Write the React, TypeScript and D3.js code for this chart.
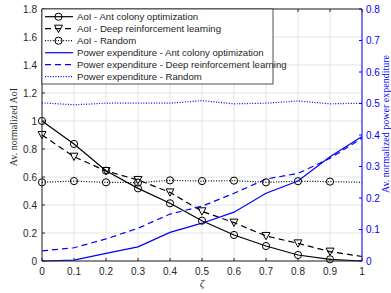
import React from 'react'
import * as d3 from 'd3'

// zeta values on the x axis
const zeta = [0, 0.1, 0.2, 0.3, 0.4, 0.5, 0.6, 0.7, 0.8, 0.9, 1]

// AoI series (left axis)
const aoiAco = [1.0, 0.836, 0.645, 0.519, 0.412, 0.288, 0.186, 0.107, 0.043, 0.012, 0.0]
const aoiDrl = [0.9, 0.745, 0.643, 0.579, 0.49, 0.355, 0.274, 0.179, 0.126, 0.067, 0.032]
const aoiRandom = [0.562, 0.571, 0.562, 0.56, 0.576, 0.571, 0.574, 0.562, 0.57, 0.567, 0.562]

// power expenditure series (right axis)
const powAco = [0.0, 0.003, 0.024, 0.045, 0.091, 0.12, 0.155, 0.215, 0.254, 0.331, 0.395]
const powDrl = [0.032, 0.042, 0.07, 0.104, 0.149, 0.174, 0.215, 0.26, 0.278, 0.326, 0.39]
const powRandom = [0.502, 0.496, 0.501, 0.501, 0.501, 0.509, 0.499, 0.501, 0.508, 0.499, 0.501]

const xTicks = [0, 0.1, 0.2, 0.3, 0.4, 0.5, 0.6, 0.7, 0.8, 0.9, 1]
const leftTicks = [0, 0.2, 0.4, 0.6, 0.8, 1, 1.2, 1.4, 1.6, 1.8]
const rightTicks = [0, 0.1, 0.2, 0.3, 0.4, 0.5, 0.6, 0.7, 0.8]

const legendLabels = [
  'AoI - Ant colony optimization',
  'AoI - Deep reinforcement learning',
  'AoI - Random',
  'Power expenditure - Ant colony optimization',
  'Power expenditure - Deep reinforcement learning',
  'Power expenditure - Random',
]

const W = 391
const H = 293
const m = { left: 42, right: 362, top: 9, bottom: 261 }
const BLUE = '#0000ff'
const INK = '#262626'
const tickFont = 'Liberation Sans, Arial, Helvetica, sans-serif'
const serif = 'Liberation Serif, DejaVu Serif, serif'

const fmt = (v: number) => (v === 0 || v === 1 ? String(v) : String(+v.toFixed(1)))

const Circle = ({ x, y }: { x: number; y: number }) => (
  <circle cx={x} cy={y} r={3.6} fill="none" stroke="#000" strokeWidth={1} />
)
const Tri = ({ x, y }: { x: number; y: number }) => (
  <path d={`M${x - 4},${y - 3.5}L${x + 4},${y - 3.5}L${x},${y + 3.8}Z`} fill="none" stroke="#000" strokeWidth={1} />
)

export default function App() {
  const x = d3.scaleLinear().domain([0, 1]).range([m.left, m.right])
  const yL = d3.scaleLinear().domain([0, 1.8]).range([m.bottom, m.top])
  const yR = d3.scaleLinear().domain([0, 0.8]).range([m.bottom, m.top])

  const lineL = d3.line<number>().x((_, i) => x(zeta[i])).y((d) => yL(d))
  const lineR = d3.line<number>().x((_, i) => x(zeta[i])).y((d) => yR(d))

  const series = [
    { data: aoiAco, gen: lineL, color: '#000', dash: undefined, marker: 'o' },
    { data: aoiDrl, gen: lineL, color: '#000', dash: '6,4', marker: 'v' },
    { data: aoiRandom, gen: lineL, color: '#000', dash: '1,1.6', marker: 'o' },
    { data: powAco, gen: lineR, color: BLUE, dash: undefined, marker: '' },
    { data: powDrl, gen: lineR, color: BLUE, dash: '6,4', marker: '' },
    { data: powRandom, gen: lineR, color: BLUE, dash: '1,1.6', marker: '' },
  ]

  const legX = m.left
  const legY = m.top
  const legW = 231
  const legH = 75
  const rowY = (i: number) => legY + 7.7 + i * 12

  return (
    <svg width={W} height={H} style={{ position: 'absolute', left: 0, top: 0, background: '#fff' }}>
      {/* grid */}
      {xTicks.map((t) => (
        <line key={'gx' + t} x1={x(t)} x2={x(t)} y1={m.top} y2={m.bottom} stroke="#e3e3e3" strokeWidth={1} />
      ))}
      {leftTicks.map((t) => (
        <line key={'gy' + t} x1={m.left} x2={m.right} y1={yL(t)} y2={yL(t)} stroke="#e3e3e3" strokeWidth={1} />
      ))}

      {/* series */}
      {series.map((s, k) => (
        <path
          key={'s' + k}
          d={s.gen(s.data) || ''}
          fill="none"
          stroke={s.color}
          strokeWidth={1.2}
          strokeDasharray={s.dash}
        />
      ))}
      {series.map((s, k) =>
        s.marker
          ? s.data.slice(0, 10).map((v, i) =>
              s.marker === 'o' ? (
                <Circle key={`m${k}-${i}`} x={x(zeta[i])} y={yL(v)} />
              ) : (
                <Tri key={`m${k}-${i}`} x={x(zeta[i])} y={yL(v)} />
              )
            )
          : null
      )}

      {/* axes */}
      <line x1={m.left} x2={m.right} y1={m.bottom} y2={m.bottom} stroke={INK} strokeWidth={1} />
      <line x1={m.left} x2={m.right} y1={m.top} y2={m.top} stroke={INK} strokeWidth={1} />
      <line x1={m.left} x2={m.left} y1={m.top} y2={m.bottom} stroke={INK} strokeWidth={1} />
      <line x1={m.right} x2={m.right} y1={m.top} y2={m.bottom} stroke={BLUE} strokeWidth={1} />

      {xTicks.map((t) => (
        <g key={'xt' + t}>
          <line x1={x(t)} x2={x(t)} y1={m.bottom} y2={m.bottom - 3} stroke={INK} />
          <line x1={x(t)} x2={x(t)} y1={m.top} y2={m.top + 3} stroke={INK} />
          <text x={x(t)} y={275} textAnchor="middle" fontSize={10} fontFamily={tickFont} fill={INK}>
            {fmt(t)}
          </text>
        </g>
      ))}
      {leftTicks.map((t) => (
        <g key={'lt' + t}>
          <line x1={m.left} x2={m.left + 3} y1={yL(t)} y2={yL(t)} stroke={INK} />
          <text x={37} y={yL(t) + 3.5} textAnchor="end" fontSize={10} fontFamily={tickFont} fill={INK}>
            {fmt(t)}
          </text>
        </g>
      ))}
      {rightTicks.map((t) => (
        <g key={'rt' + t}>
          <line x1={m.right} x2={m.right - 3} y1={yR(t)} y2={yR(t)} stroke={BLUE} />
          <text x={366} y={yR(t) + 3.5} textAnchor="start" fontSize={10} fontFamily={tickFont} fill={BLUE}>
            {fmt(t)}
          </text>
        </g>
      ))}

      {/* axis labels */}
      <text
        transform="translate(17,127) rotate(-90)"
        textAnchor="middle"
        fontSize={10}
        fontFamily={serif}
        fill={INK}
      >
        Av. normalized AoI
      </text>
      <text
        transform="translate(388.5,124) rotate(-90)"
        textAnchor="middle"
        fontSize={10}
        fontFamily={serif}
        fill={BLUE}
      >
        Av. normalized power expenditure
      </text>
      <text x={202} y={287} textAnchor="middle" fontSize={11} fontStyle="italic" fontFamily={serif} fill={INK}>
        ζ
      </text>

      {/* legend */}
      <rect x={legX} y={legY} width={legW} height={legH} fill="#fff" stroke={INK} strokeWidth={0.8} />
      {series.map((s, i) => {
        const cy = rowY(i)
        const mx = legX + 16.5
        return (
          <g key={'lg' + i}>
            <line
              x1={legX + 3}
              x2={legX + 31}
              y1={cy}
              y2={cy}
              stroke={s.color}
              strokeWidth={1.2}
              strokeDasharray={s.dash}
            />
            {s.marker === 'o' && <Circle x={mx} y={cy} />}
            {s.marker === 'v' && <Tri x={mx} y={cy} />}
            <text x={legX + 35} y={cy + 3.5} fontSize={9.6} fontFamily={tickFont} fill={INK}>
              {legendLabels[i]}
            </text>
          </g>
        )
      })}
    </svg>
  )
}
